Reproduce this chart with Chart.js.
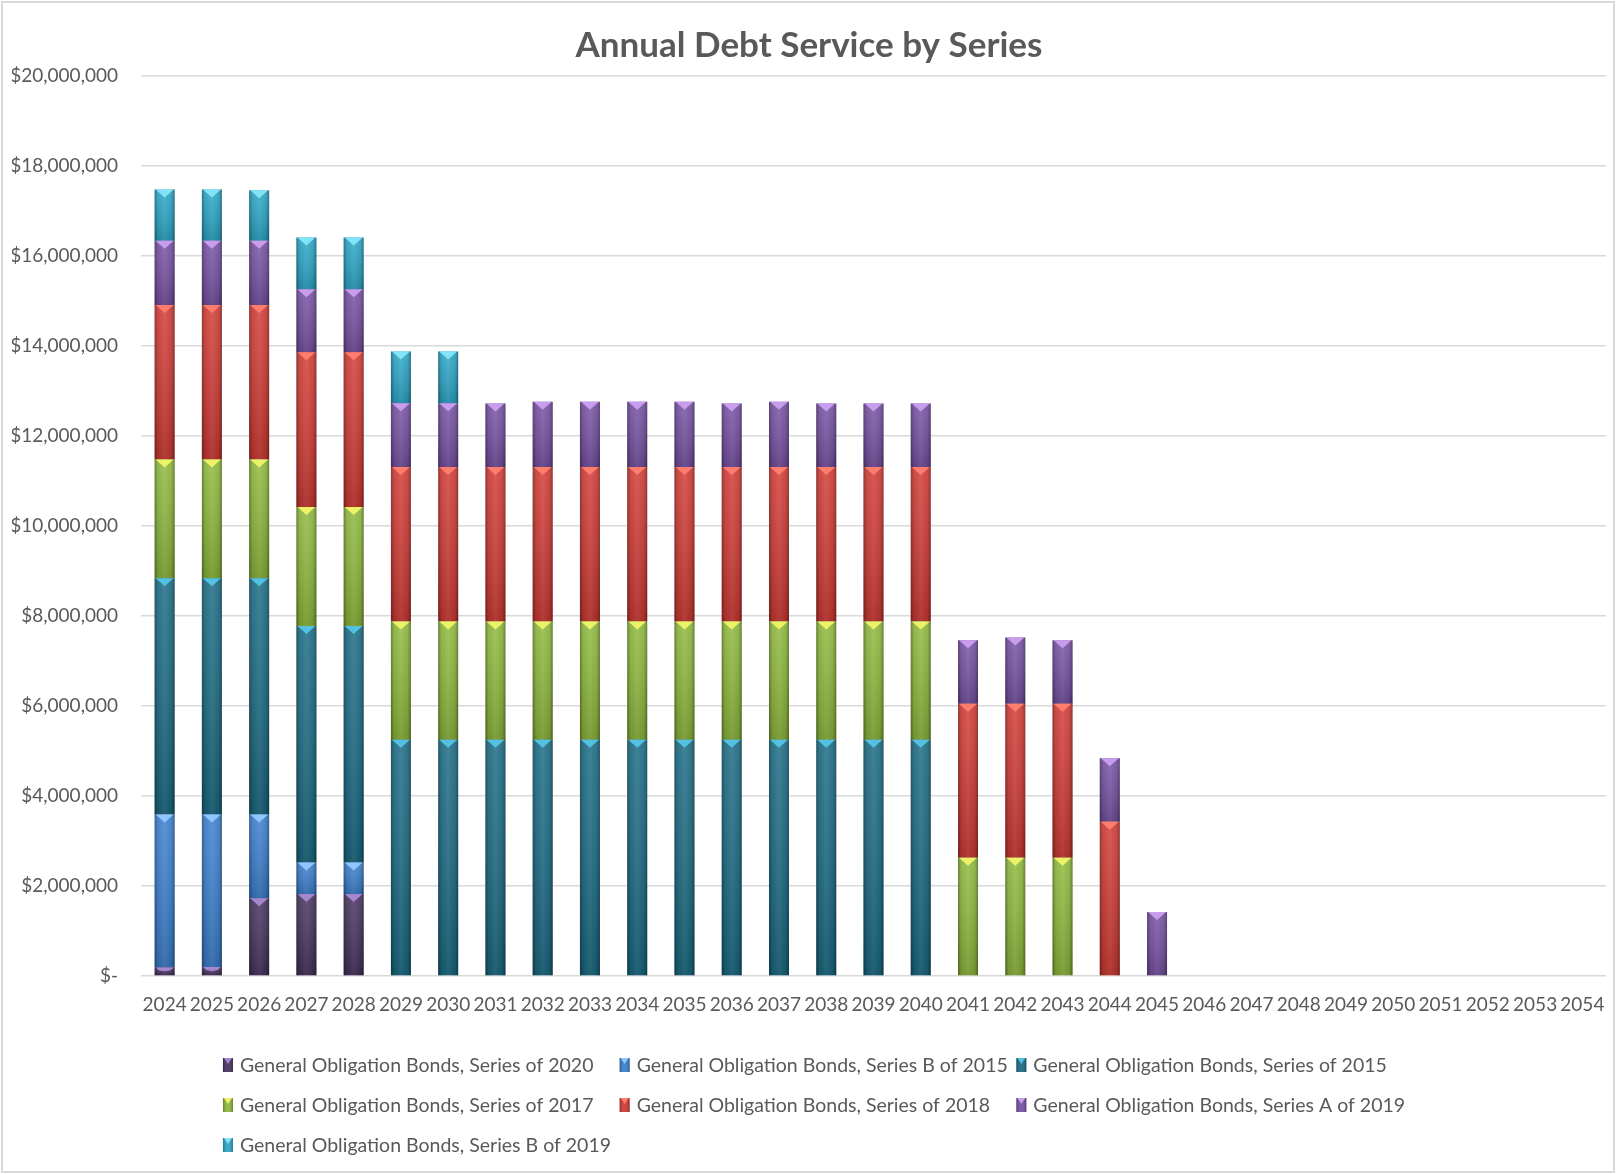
<!DOCTYPE html>
<html>
<head>
<meta charset="utf-8">
<title>Annual Debt Service by Series</title>
<script src="https://cdn.jsdelivr.net/npm/chart.js@4.4.1/dist/chart.umd.min.js"></script>
<style>
  html, body { margin: 0; padding: 0; background: #ffffff; }
  #wrap { width: 1616px; height: 1174px; }
</style>
</head>
<body>
<div id="wrap"><canvas id="chart" width="1616" height="1174"></canvas></div>
<script>
// Fiscal years on the category axis
const years = [2024, 2025, 2026, 2027, 2028, 2029, 2030, 2031, 2032, 2033, 2034,
  2035, 2036, 2037, 2038, 2039, 2040, 2041, 2042, 2043, 2044, 2045, 2046, 2047,
  2048, 2049, 2050, 2051, 2052, 2053, 2054];

// Annual debt service by bond series (dollars); null = no payment that year
const series2020 = [190000, 200000, 1730000, 1820000, 1820000];
const seriesB2015 = [3400000, 3390000, 1860000, 700000, 700000];
const series2015 = [5250000, 5250000, 5250000, 5260000, 5260000, 5250000, 5250000,
  5250000, 5250000, 5250000, 5250000, 5250000, 5250000, 5250000, 5250000, 5250000, 5250000];
const series2017 = [2640000, 2640000, 2640000, 2640000, 2640000, 2630000, 2630000,
  2630000, 2630000, 2630000, 2630000, 2630000, 2630000, 2630000, 2630000, 2630000, 2630000,
  2630000, 2630000, 2630000];
const series2018 = [3430000, 3430000, 3430000, 3440000, 3440000, 3430000, 3430000,
  3430000, 3430000, 3430000, 3430000, 3430000, 3430000, 3430000, 3430000, 3430000, 3430000,
  3420000, 3420000, 3420000, 3430000];
const seriesA2019 = [1430000, 1430000, 1430000, 1400000, 1400000, 1420000, 1420000,
  1410000, 1450000, 1450000, 1450000, 1450000, 1410000, 1450000, 1410000, 1410000, 1410000,
  1410000, 1470000, 1410000, 1410000, 1420000];
const seriesB2019 = [1140000, 1140000, 1120000, 1150000, 1150000, 1150000, 1150000];

const seriesLabels = [
  'General Obligation Bonds, Series of 2020',
  'General Obligation Bonds, Series B of 2015',
  'General Obligation Bonds, Series of 2015',
  'General Obligation Bonds, Series of 2017',
  'General Obligation Bonds, Series of 2018',
  'General Obligation Bonds, Series A of 2019',
  'General Obligation Bonds, Series B of 2019'
];
const seriesValues = [series2020, seriesB2015, series2015, series2017, series2018, seriesA2019, seriesB2019];
const fillColors = ['#47325f', '#3b80d0', '#1a6b84', '#8fba3c', '#d23a34', '#7751a4', '#2ba8c9'];
const capColors  = ['#a586cf', '#8fc6ff', '#52c1e2', '#eef266', '#ff7d6c', '#c89ded', '#84e3f7'];

const TEXT = '#595959';
const FONT = 'Lato, "Open Sans", sans-serif';

// pad each series out to the full year range
const pad = arr => years.map((_, i) => (i < arr.length ? arr[i] : null));

const datasets = seriesLabels.map((label, i) => ({
  label,
  data: pad(seriesValues[i]),
  backgroundColor: fillColors[i],
  capColor: capColors[i],
  borderWidth: 0,
  barPercentage: 0.9,
  categoryPercentage: 0.47
}));

// Beveled look on each stacked segment: dark edges, soft vertical fade, light chevron cap
const bevel = {
  id: 'bevel',
  afterDatasetsDraw(chart) {
    const ctx = chart.ctx;
    ctx.save();
    chart.data.datasets.forEach((ds, i) => {
      const meta = chart.getDatasetMeta(i);
      if (meta.hidden) return;
      meta.data.forEach((bar, j) => {
        if (!ds.data[j]) return;
        const p = bar.getProps(['x', 'y', 'base', 'width'], true);
        const l = p.x - p.width / 2, r = p.x + p.width / 2;
        const t = Math.min(p.y, p.base), b = Math.max(p.y, p.base);
        const h = b - t;
        if (h < 0.5) return;
        let g = ctx.createLinearGradient(l, 0, r, 0);
        g.addColorStop(0, 'rgba(0,0,0,0.38)');
        g.addColorStop(0.16, 'rgba(0,0,0,0.06)');
        g.addColorStop(0.5, 'rgba(255,255,255,0.07)');
        g.addColorStop(0.84, 'rgba(0,0,0,0.06)');
        g.addColorStop(1, 'rgba(0,0,0,0.38)');
        ctx.fillStyle = g;
        ctx.fillRect(l, t, p.width, h);
        g = ctx.createLinearGradient(0, t, 0, b);
        g.addColorStop(0, 'rgba(255,255,255,0.10)');
        g.addColorStop(1, 'rgba(0,0,0,0.16)');
        ctx.fillStyle = g;
        ctx.fillRect(l, t, p.width, h);
        const d = Math.min(8, h * 0.5);
        ctx.fillStyle = ds.capColor;
        ctx.beginPath();
        ctx.moveTo(l + 1, t);
        ctx.lineTo(r - 1, t);
        ctx.lineTo(p.x + p.width * 0.28, t + Math.min(3, d));
        ctx.lineTo(p.x, t + d);
        ctx.lineTo(p.x - p.width * 0.28, t + Math.min(3, d));
        ctx.closePath();
        ctx.fill();
      });
    });
    ctx.restore();
  }
};

// Legend laid out as a three-column grid under the axis
const gridLegend = {
  id: 'gridLegend',
  afterDraw(chart) {
    const ctx = chart.ctx;
    const dsets = chart.data.datasets;
    ctx.save();
    ctx.font = '19.5px ' + FONT;
    const maxW = Math.max(...dsets.map(d => ctx.measureText(d.label).width));
    const colW = maxW + 17 + 8;
    const cols = 3;
    const startX = chart.width / 2 + 10 - (cols * colW) / 2;
    const firstRow = chart.chartArea.bottom + 89;
    const rowGap = 40;
    dsets.forEach((d, i) => {
      const cx = startX + (i % cols) * colW;
      const cy = firstRow + Math.floor(i / cols) * rowGap;
      const sw = 10, sh = 14;
      const sx = cx, sy = cy - sh / 2;
      ctx.fillStyle = d.backgroundColor;
      ctx.fillRect(sx, sy, sw, sh);
      const g = ctx.createLinearGradient(sx, 0, sx + sw, 0);
      g.addColorStop(0, 'rgba(0,0,0,0.3)');
      g.addColorStop(0.5, 'rgba(255,255,255,0.05)');
      g.addColorStop(1, 'rgba(0,0,0,0.3)');
      ctx.fillStyle = g;
      ctx.fillRect(sx, sy, sw, sh);
      ctx.fillStyle = d.capColor;
      ctx.beginPath();
      ctx.moveTo(sx + 1, sy);
      ctx.lineTo(sx + sw - 1, sy);
      ctx.lineTo(sx + sw / 2, sy + 6);
      ctx.closePath();
      ctx.fill();
      ctx.fillStyle = TEXT;
      ctx.textAlign = 'left';
      ctx.textBaseline = 'middle';
      ctx.fillText(d.label, cx + 17, cy + 1);
    });
    ctx.restore();
  }
};

// White chart area with a thin grey frame
const frame = {
  id: 'frame',
  beforeDraw(chart) {
    const ctx = chart.ctx;
    ctx.save();
    ctx.fillStyle = '#ffffff';
    ctx.fillRect(0, 0, chart.width, chart.height);
    ctx.strokeStyle = '#d9d9d9';
    ctx.lineWidth = 2;
    ctx.strokeRect(2, 2, chart.width - 4, chart.height - 4);
    ctx.restore();
  }
};

const money = v => v === 0 ? '$-' : '$' + Number(v).toLocaleString('en-US');

new Chart(document.getElementById('chart'), {
  type: 'bar',
  data: { labels: years, datasets },
  options: {
    responsive: false,
    devicePixelRatio: 1,
    animation: false,
    layout: { padding: { top: 0, left: 12, right: 10, bottom: 158 } },
    plugins: {
      legend: { display: false },
      tooltip: { enabled: false },
      title: {
        display: true,
        text: 'Annual Debt Service by Series',
        color: TEXT,
        font: { family: FONT, size: 35, weight: 'bold' },
        padding: { top: 25, bottom: 9 }
      }
    },
    scales: {
      x: {
        stacked: true,
        grid: { display: false },
        border: { display: false },
        ticks: {
          color: TEXT,
          font: { family: FONT, size: 19 },
          padding: 9,
          maxRotation: 0,
          autoSkip: false
        },
        afterFit(scale) { scale.height = 40; }
      },
      y: {
        stacked: true,
        min: 0,
        max: 20000000,
        grid: { color: '#d9d9d9', lineWidth: 1.5, drawTicks: false },
        border: { display: false },
        ticks: {
          stepSize: 2000000,
          color: TEXT,
          font: { family: FONT, size: 19 },
          padding: 23,
          callback: money
        },
        afterFit(scale) { scale.width = 129; }
      }
    }
  },
  plugins: [frame, bevel, gridLegend]
});
</script>
</body>
</html>
